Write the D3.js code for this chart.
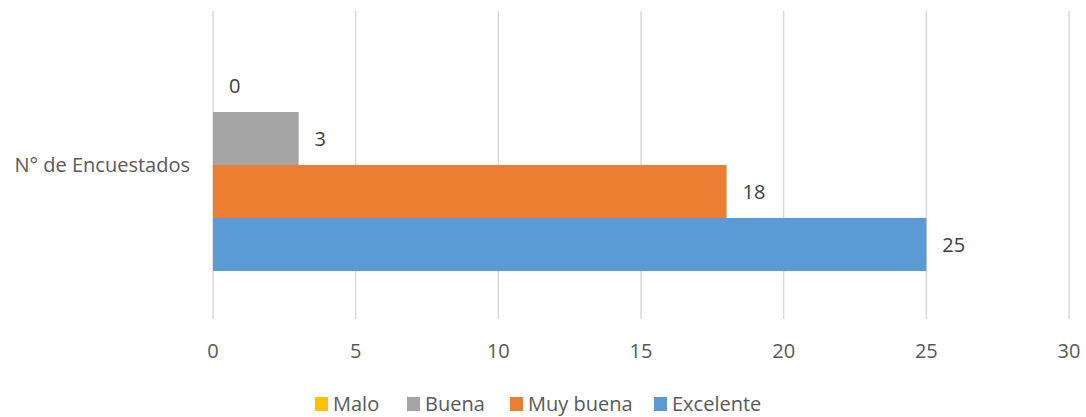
<!DOCTYPE html>
<html>
<head>
<meta charset="utf-8">
<script src="https://cdn.jsdelivr.net/npm/d3@7"></script>
<style>
  body { margin: 0; background: #fff; }
  svg { font-family: "Open Sans", "Liberation Sans", sans-serif; }
</style>
</head>
<body>
<div id="chart"></div>
<script>
// Chart data
const category = 'N° de Encuestados';
const seriesNames = ['Malo', 'Buena', 'Muy buena', 'Excelente'];
const seriesValues = [0, 3, 18, 25];
const seriesColors = ['#FFC000', '#A5A5A5', '#ED7D31', '#5B9BD5'];
const xTicks = [0, 5, 10, 15, 20, 25, 30];

const width = 1086, height = 417;
const margin = { left: 213, right: 17, top: 11, bottom: 98 };
const fontSize = 20;

const svg = d3.select('#chart')
  .append('svg')
  .attr('width', width)
  .attr('height', height);

const x = d3.scaleLinear()
  .domain([0, 30])
  .range([margin.left, width - margin.right]);

// Band for the single category, inner band for the series
const y0 = d3.scaleBand()
  .domain([category])
  .range([margin.top, height - margin.bottom]);

const y1 = d3.scaleBand()
  .domain(seriesNames)
  .range([48, 260])
  .paddingInner(0);

// Gridlines
svg.append('g')
  .selectAll('line')
  .data(xTicks)
  .enter()
  .append('line')
  .attr('x1', d => x(d))
  .attr('x2', d => x(d))
  .attr('y1', margin.top)
  .attr('y2', height - margin.bottom)
  .attr('stroke', '#D9D9D9')
  .attr('stroke-width', 1.5);

// Tick labels
svg.append('g')
  .selectAll('text')
  .data(xTicks)
  .enter()
  .append('text')
  .attr('x', d => x(d))
  .attr('y', 351)
  .attr('dy', '0.35em')
  .attr('text-anchor', 'middle')
  .attr('fill', '#595959')
  .attr('font-size', fontSize)
  .text(d => d);

// Category label
svg.append('text')
  .attr('x', 190)
  .attr('y', 165)
  .attr('dy', '0.35em')
  .attr('text-anchor', 'end')
  .attr('fill', '#595959')
  .attr('font-size', fontSize)
  .text(category);

const g = svg.append('g')
  .attr('transform', `translate(0,${y0(category)})`);

const rows = seriesNames.map((name, i) => ({ name, value: seriesValues[i], color: seriesColors[i] }));

g.selectAll('rect')
  .data(rows)
  .enter()
  .append('rect')
  .attr('x', x(0))
  .attr('y', d => y1(d.name))
  .attr('width', d => x(d.value) - x(0))
  .attr('height', y1.bandwidth())
  .attr('fill', d => d.color);

g.selectAll('text.value')
  .data(rows)
  .enter()
  .append('text')
  .attr('class', 'value')
  .attr('x', d => x(d.value) + 16)
  .attr('y', d => y1(d.name) + y1.bandwidth() / 2)
  .attr('dy', '0.35em')
  .attr('fill', '#404040')
  .attr('font-size', fontSize)
  .text(d => d.value);

// Legend
const legendX = [315, 407, 510, 654];
const legend = svg.append('g')
  .selectAll('g')
  .data(rows)
  .enter()
  .append('g')
  .attr('transform', (d, i) => `translate(${legendX[i]},404)`);

legend.append('rect')
  .attr('x', 0)
  .attr('y', -7)
  .attr('width', 13)
  .attr('height', 14)
  .attr('fill', d => d.color);

legend.append('text')
  .attr('x', 18)
  .attr('y', 0)
  .attr('dy', '0.35em')
  .attr('fill', '#595959')
  .attr('font-size', fontSize)
  .text(d => d.name);
</script>
</body>
</html>
